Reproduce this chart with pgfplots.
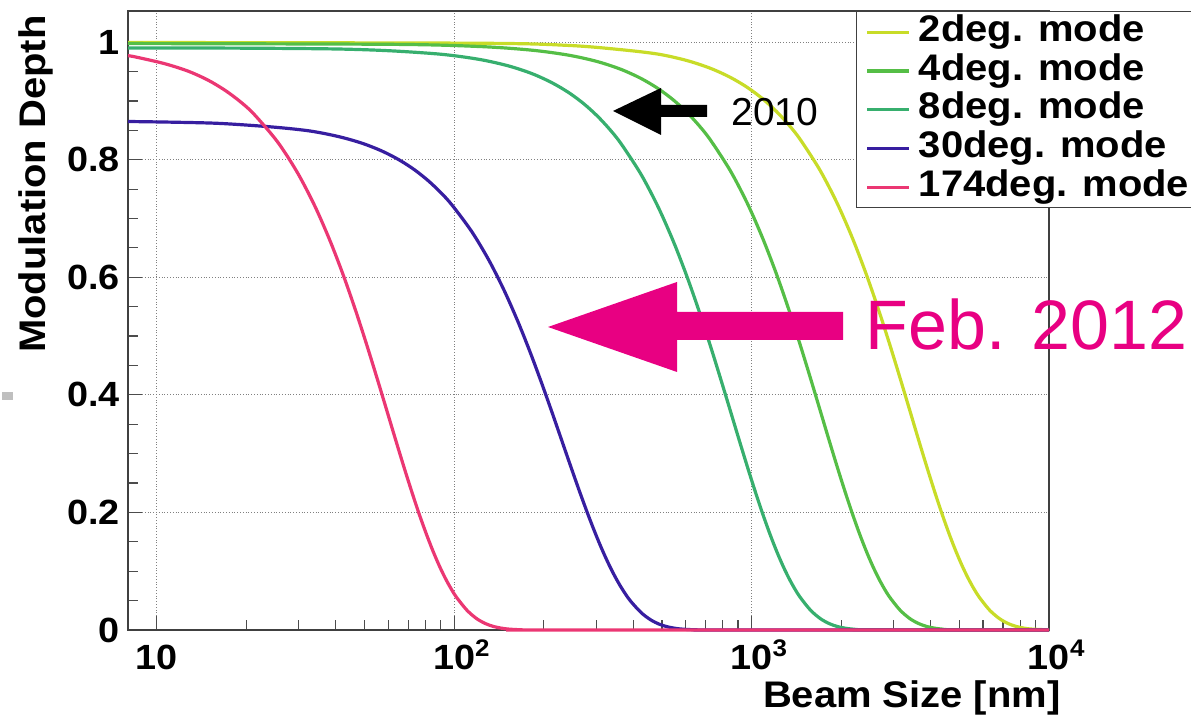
\documentclass[border=0pt]{standalone}
\usepackage{fontspec}
\setmainfont{Liberation Sans}
\newfontfamily\labfont{Liberation Sans}[FakeStretch=1.08]
\usepackage{pgfplots}
\pgfplotsset{compat=1.18}
\definecolor{cTwo}{RGB}{200,220,40}
\definecolor{cFour}{RGB}{85,190,70}
\definecolor{cEight}{RGB}{55,175,110}
\definecolor{cThirty}{RGB}{55,30,160}
\definecolor{cPink}{RGB}{235,55,115}
\definecolor{cMag}{RGB}{232,0,130}
\newcommand{\tickfont}{\labfont\bfseries\fontsize{17.5}{18}\selectfont}
\newcommand{\sqr}[1]{\textbf{10}\rlap{\raisebox{6.5pt}{\fontsize{12}{12}\selectfont\textbf{#1}}}}
\begin{document}
\begin{tikzpicture}
\useasboundingbox (0,0) rectangle (595.5pt,360.5pt);
\fill[black!25] (1pt,160.5pt) rectangle (6.5pt,164.5pt);
\begin{axis}[
  at={(64pt,45.5pt)}, anchor=south west,
  scale only axis, width=460.5pt, height=309.5pt,
  xmode=log, xmin=8, xmax=10000, ymin=0, ymax=1.053,
  clip=false,
  axis line style={black!75, line width=0.75pt},
  xtick={10,100,1000,10000},
  xticklabels={\textbf{10},\sqr{2},\sqr{3},\sqr{4}},
  ytick={0,0.2,0.4,0.6,0.8,1},
  yticklabels={0,0.2,0.4,0.6,0.8,1},
  minor y tick num=3,
  tick align=inside, xtick pos=bottom, ytick pos=left,
  major tick length=7pt, minor tick length=5pt,
  tick style={black!70, line width=0.6pt},
  grid=major,
  major grid style={densely dotted, black!50, line width=0.55pt},
  xticklabel style={font=\tickfont, anchor=base, yshift=-20pt},
  yticklabel style={font=\tickfont, anchor=east, inner xsep=4pt},
  xlabel={Beam Size [nm]},
  ylabel={Modulation Depth},
  xlabel style={font=\labfont\bfseries\fontsize{18.5}{20}\selectfont, at={(axis description cs:1.013,-0.126)}, anchor=base east, inner sep=0pt},
  ylabel style={font=\labfont\bfseries\fontsize{18.5}{20}\selectfont, at={(axis description cs:-0.0901,0.9935)}, anchor=base east, inner sep=0pt},
  legend style={at={(rel axis cs:0.7904,1)}, anchor=north west,
    draw=black!75, line width=0.75pt, fill=white,
    font=\labfont\bfseries\fontsize{18.5}{20}\selectfont,
    inner xsep=4.5pt, inner ysep=1.3pt,
    nodes={inner sep=0pt, text height=13.5pt, text depth=4.5pt},
    column sep=4pt, row sep=1.35pt},
  legend cell align=left,
  legend image code/.code={\draw[#1] (0pt,0pt) -- (21pt,0pt);},
  every axis plot/.append style={line width=1.6pt, smooth},
]
% 2 deg
\addplot[cTwo] coordinates {
(8,0.99939)(121.29,0.99814)(242.58,0.99440)(363.9,0.98717)(485.15,0.97960)(606.4,0.96866)(727.73,0.95542)
(849.0,0.93999)(970.30,0.92256)(1091.6,0.90321)(1212.9,0.88196)(1334.2,0.85913)(1455.5,0.83476)(1698.0,0.78223)(1940.6,0.72571)
(2183.2,0.66657)(2425.8,0.60616)(2668.3,0.54574)(2910.9,0.48645)(3153.5,0.42929)
(3396.1,0.37508)(3638.6,0.32445)(3881.2,0.27787)(4123.8,0.23561)(4366.4,0.19778)
(4608.9,0.16437)(4851.5,0.13526)(5094.1,0.11018)(5336.7,0.08887)(5579.2,0.07097)
(5821.8,0.05610)(6307.0,0.03403)(6792.1,0.01983)(7277.3,0.01110)(7762.4,0.00598)
(8247.6,0.00309)(8732.7,0.00154)(10000,0.0002)};
\addlegendentry{2deg. mode}
% 4 deg
\addplot[cFour] coordinates {
(8,0.99756)(60.65,0.99631)(121.31,0.99258)(181.96,0.98638)(242.61,0.97781)(303.3,0.96688)(363.92,0.95367)
(424.6,0.93827)(485.22,0.92087)(545.9,0.90156)(606.53,0.88035)(667.2,0.85755)(727.83,0.83323)(849.14,0.78080)(970.44,0.72438)
(1091.7,0.66535)(1213.1,0.60505)(1334.4,0.54474)(1455.7,0.48556)(1577.0,0.42850)
(1698.3,0.37439)(1819.6,0.32386)(1940.9,0.27736)(2062.2,0.23517)(2183.5,0.19742)
(2304.8,0.16407)(2426.1,0.13501)(2547.4,0.10998)(2668.7,0.08870)(2790.0,0.07084)
(2911.3,0.05599)(3153.9,0.03397)(3396.5,0.01979)(3639.2,0.01108)(3881.8,0.00597)
(4124.4,0.00308)(4367.0,0.00154)(4852.2,0.00034)(10000,0)};
\addlegendentry{4deg. mode}
% 8 deg
\addplot[cEight] coordinates {
(8,0.99018)(20,0.98973)(40,0.98838)(60.69,0.98533)(91.0,0.97924)(121.38,0.97066)(151.7,0.95979)(182.07,0.94670)
(212.4,0.93134)(242.76,0.91414)(273.1,0.89492)(303.45,0.87391)(333.8,0.85126)(364.13,0.82714)(424.82,0.77510)(485.51,0.71908)
(546.20,0.66049)(606.89,0.60063)(667.58,0.54076)(728.27,0.48201)(788.96,0.42537)
(849.65,0.37166)(910.34,0.32149)(971.02,0.27533)(1031.7,0.23346)(1092.4,0.19597)
(1153.1,0.16287)(1213.8,0.13402)(1274.5,0.10918)(1335.2,0.08805)(1395.8,0.07032)
(1456.5,0.05558)(1577.9,0.03372)(1699.3,0.01965)(1820.7,0.01100)(1942.0,0.00592)
(2063.4,0.00306)(2184.8,0.00153)(2427.6,0.00034)(10000,0)};
\addlegendentry{8deg. mode}
% 30 deg
\addplot[cThirty] coordinates {
(8,0.8650)(11.45,0.86378)(16.357,0.86170)(24.54,0.85560)(32.714,0.84888)(40.9,0.83927)(49.071,0.82792)(57.2,0.81466)(65.428,0.79945)
(73.6,0.78268)(81.785,0.76427)(90.0,0.74432)(98.142,0.72337)(114.50,0.67785)(130.86,0.62886)(147.21,0.57762)
(163.57,0.52527)(179.93,0.47291)(196.28,0.42154)(212.64,0.37200)(229.00,0.32503)
(245.36,0.28116)(261.71,0.24079)(278.07,0.20417)(294.43,0.17139)(310.78,0.14244)
(327.14,0.11721)(343.50,0.09548)(359.85,0.07701)(376.21,0.06150)(392.57,0.04861)
(425.28,0.02949)(458.00,0.01718)(490.71,0.00962)(523.42,0.00518)(556.14,0.00268)
(588.85,0.00133)(654.28,0.00029)(800,0)(10000,0)};
\addlegendentry{30deg. mode}
% 174 deg
\addplot[cPink] coordinates {
(8,0.9769)(8.479,0.9748)(10.6,0.9635)(12.718,0.9508)(14.84,0.9356)(16.957,0.9181)(19.08,0.8988)(21.197,0.8777)
(25.436,0.8307)(29.675,0.7784)(33.915,0.7222)(38.154,0.6633)(42.394,0.6032)
(46.633,0.5431)(50.872,0.4841)(55.112,0.4272)(59.351,0.3733)(63.590,0.3229)
(67.830,0.2765)(72.069,0.2345)(76.308,0.1968)(80.548,0.1636)(84.787,0.1346)
(89.026,0.1096)(93.266,0.0884)(97.505,0.0706)(101.74,0.0558)(110.22,0.0339)
(118.70,0.0197)(127.18,0.0110)(135.66,0.0059)(144.14,0.0031)(152.62,0.0015)
(169.57,0.0003)(200,0)(10000,0)};
\addlegendentry{174deg. mode}
\end{axis}
% annotations
\fill[black] (353.5pt,308pt) -- (330.5pt,308pt) -- (330.5pt,316.5pt) -- (306.5pt,305pt)
  -- (330.5pt,293pt) -- (330.5pt,302pt) -- (353.5pt,302pt) -- cycle;
\node[anchor=center, inner sep=0pt, font=\fontsize{19.5}{20}\selectfont] at (387.5pt,304.5pt) {2010};
\fill[cMag] (421.5pt,204.5pt) -- (338.5pt,204.5pt) -- (338.5pt,219.5pt) -- (274pt,197pt)
  -- (338.5pt,174.5pt) -- (338.5pt,190.5pt) -- (421.5pt,190.5pt) -- cycle;
\node[anchor=base west, inner sep=0pt, text=cMag, font=\fontsize{35}{36}\selectfont] at (432.5pt,185.5pt) {Feb. 2012};
\end{tikzpicture}
\end{document}
